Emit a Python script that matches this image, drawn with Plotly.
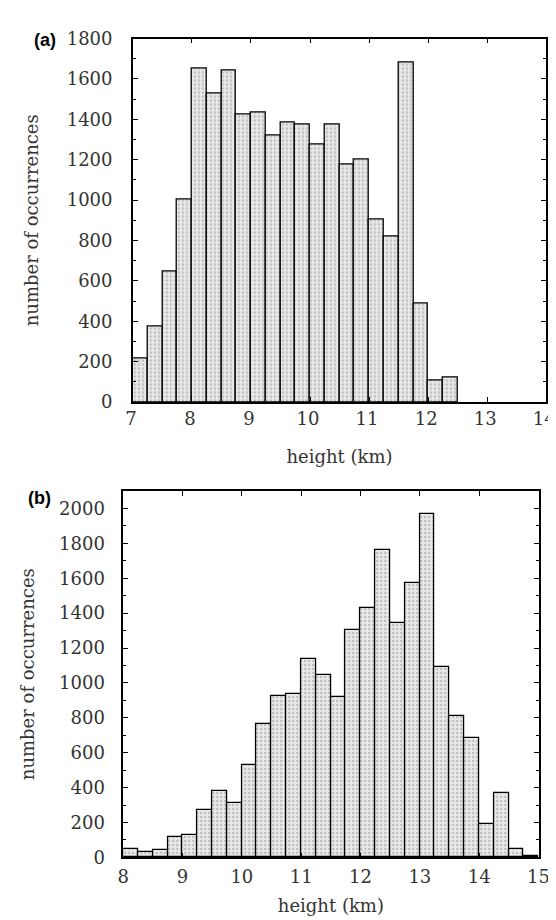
import numpy as np
import plotly.graph_objects as go

# panel (a): cloud top heights, 0.25 km bins from 7.0 km
bin_width = 0.25
counts_a = [214, 374, 647, 1005, 1653, 1527, 1640, 1424, 1435, 1319, 1385,
            1376, 1276, 1376, 1176, 1203, 906, 821, 1682, 489, 105, 121]
bins_a = np.arange(len(counts_a)) * bin_width + 7.0

# panel (b): 0.25 km bins from 8.0 km
counts_b = [47, 32, 41, 117, 128, 272, 383, 311, 532, 763, 923, 936, 1139,
            1043, 920, 1306, 1429, 1761, 1342, 1573, 1968, 1094, 813, 687,
            190, 367, 47, 8]
bins_b = np.arange(len(counts_b)) * bin_width + 8.0

x_ticks_a = [7, 8, 9, 10, 11, 12, 13, 14]
x_ticks_b = [8, 9, 10, 11, 12, 13, 14, 15]

W, H = 556, 920
TICK_FONT = dict(family="DejaVu Serif", size=18, color="#333")
TITLE_FONT = dict(family="DejaVu Serif", size=18, color="#333")

bar_marker = dict(
    color="#e4e4e4",
    line=dict(color="black", width=1.3),
    pattern=dict(shape=".", fgcolor="#8a8a8a", bgcolor="#e8e8e8", size=4, solidity=0.25),
)

fig = go.Figure()
fig.add_trace(go.Bar(x=bins_a, y=counts_a, width=bin_width, offset=0,
                     marker=bar_marker, xaxis="x", yaxis="y"))
fig.add_trace(go.Bar(x=bins_b, y=counts_b, width=bin_width, offset=0,
                     marker=bar_marker, xaxis="x2", yaxis="y2"))


def axis_style(**kw):
    d = dict(
        showline=True, linecolor="black", linewidth=1.5, mirror="ticks",
        ticks="inside", ticklen=5, tickcolor="black", tickwidth=1,
        showgrid=False, zeroline=False, tickfont=TICK_FONT,
        title_font=TITLE_FONT,
    )
    d.update(kw)
    return d


minor_y = dict(ticks="inside", dtick=100, ticklen=3, tickcolor="black")

fig.update_layout(
    width=W, height=H,
    margin=dict(l=0, r=0, t=0, b=0),
    paper_bgcolor="white", plot_bgcolor="white",
    showlegend=False, bargap=0,
    xaxis=axis_style(domain=[121 / W, 549 / W], anchor="y", range=[7, 14],
                     tickvals=x_ticks_a, ticklabelstandoff=0, ticklabelshift=-2,
                     title_text="height (km)", title_standoff=22),
    yaxis=axis_style(domain=[1 - 392 / H, 1 - 20 / H], anchor="x", range=[0, 1800],
                     dtick=200, ticklabelstandoff=15, minor=minor_y,
                     title_text="number of occurrences", title_standoff=23),
    xaxis2=axis_style(domain=[111 / W, 541 / W], anchor="y2", range=[8, 15],
                      tickvals=x_ticks_b, ticklabelstandoff=2,
                      title_text="height (km)", title_standoff=14),
    yaxis2=axis_style(domain=[1 - 858 / H, 1 - 483 / H], anchor="x2", range=[0, 2100],
                      dtick=200, ticklabelstandoff=13, minor=minor_y,
                      title_text="number of occurrences", title_standoff=20),
)

for label, x, y in [("(a)", 17, 22), ("(b)", 10, 490)]:
    fig.add_annotation(text="<b>" + label + "</b>", xref="paper", yref="paper",
                       x=x / W, y=1 - y / H, xanchor="left", yanchor="middle",
                       showarrow=False,
                       font=dict(family="Liberation Sans", size=18, color="black"))

fig.write_html("out.html")
